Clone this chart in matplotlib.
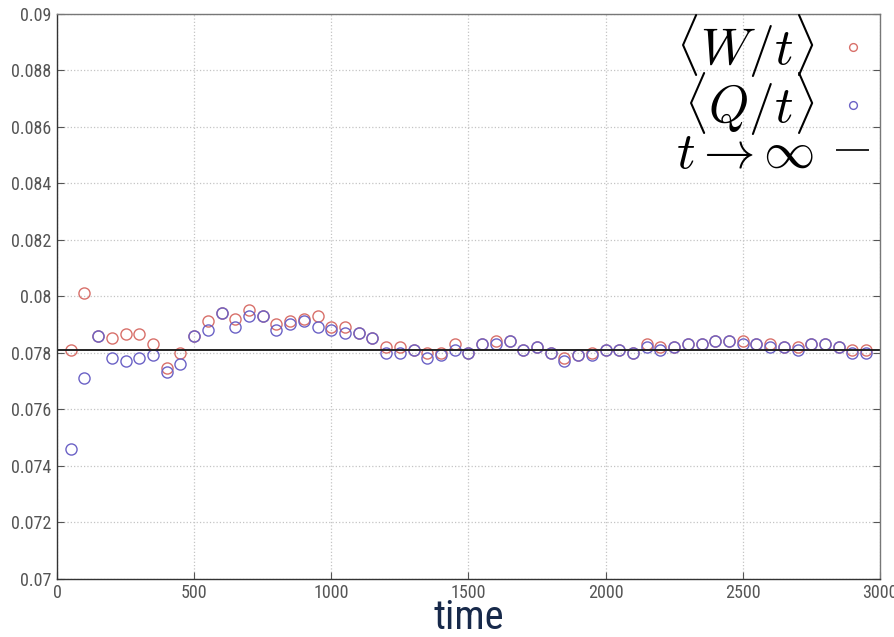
import numpy as np
import matplotlib
matplotlib.use('Agg')
import matplotlib.pyplot as plt
from matplotlib import font_manager

# pick a narrow sans if there is one
narrow = 'DejaVu Sans'
for name in ['Liberation Sans Narrow', 'Roboto Condensed', 'Open Sans Condensed']:
    try:
        font_manager.findfont(name, fallback_to_default=False)
        narrow = name
        break
    except Exception:
        pass

plt.rcParams['mathtext.fontset'] = 'cm'

time = np.arange(50, 3000, 50)

W_t = [0.0781, 0.0801, 0.0786, 0.0785, 0.07865, 0.07865, 0.0783, 0.07745, 0.0780, 0.0786,
       0.0791, 0.0794, 0.0792, 0.0795, 0.0793, 0.0790, 0.0791, 0.0792, 0.0793, 0.0789,
       0.0789, 0.0787, 0.0785, 0.0782, 0.0782, 0.0781, 0.0780, 0.0780, 0.0783, 0.0780,
       0.0783, 0.0784, 0.0784, 0.0781, 0.0782, 0.0780, 0.0778, 0.0779, 0.0780, 0.0781,
       0.0781, 0.0780, 0.0783, 0.0782, 0.0782, 0.0783, 0.0783, 0.0784, 0.0784, 0.0784,
       0.0783, 0.0783, 0.0782, 0.0782, 0.0783, 0.0783, 0.0782, 0.0781, 0.0781]

Q_t = [0.07458, 0.0771, 0.0786, 0.0778, 0.0777, 0.0778, 0.0779, 0.0773, 0.0776, 0.0786,
       0.0788, 0.0794, 0.0789, 0.0793, 0.0793, 0.0788, 0.0790, 0.0791, 0.0789, 0.0788,
       0.0787, 0.0787, 0.0785, 0.0780, 0.0780, 0.0781, 0.0778, 0.0779, 0.0781, 0.0780,
       0.0783, 0.0783, 0.0784, 0.0781, 0.0782, 0.0780, 0.0777, 0.0779, 0.0779, 0.0781,
       0.0781, 0.0780, 0.0782, 0.0781, 0.0782, 0.0783, 0.0783, 0.0784, 0.0784, 0.0783,
       0.0783, 0.0782, 0.0782, 0.0781, 0.0783, 0.0783, 0.0782, 0.0780, 0.0780]

limit = 0.0781

xticks = [0, 500, 1000, 1500, 2000, 2500, 3000]
yticks = [0.07, 0.072, 0.074, 0.076, 0.078, 0.08, 0.082, 0.084, 0.086, 0.088, 0.09]
ylabels = ['0.07', '0.072', '0.074', '0.076', '0.078', '0.08', '0.082', '0.084', '0.086', '0.088', '0.09']

red = '#d8706a'
blue = '#6b62c6'

fig = plt.figure(figsize=(8.95, 6.37), dpi=100)
ax = fig.add_axes([0.0637, 0.0918, 0.9193, 0.887])

ax.plot(time, W_t, 'o', mfc='none', mec=red, ms=8, mew=1.0, label=r'$\langle W/t\rangle$')
ax.plot(time, Q_t, 'o', mfc='none', mec=blue, ms=8, mew=1.0, label=r'$\langle Q/t\rangle$')
ax.axhline(limit, color='#222222', lw=1.4, label=r'$t\rightarrow\infty$')

ax.set_xlim(0, 3000)
ax.set_ylim(0.07, 0.09)
ax.set_xticks(xticks)
ax.set_yticks(yticks)
ax.set_yticklabels(ylabels)
ax.grid(True, linestyle=':', color='#c4c4c4', lw=0.9)
ax.tick_params(direction='in', length=5, top=False, right=True, colors='#555555',
               labelsize=13, labelcolor='#555555', pad=4)
for lab in ax.get_xticklabels() + ax.get_yticklabels():
    lab.set_family(narrow)
for s in ax.spines.values():
    s.set_color('#777777')
    s.set_linewidth(1.0)
ax.spines['left'].set_color('#333333')
ax.spines['bottom'].set_color('#333333')

ax.set_xlabel('time', family=narrow, fontsize=29, color='#17294a', labelpad=-3)

leg = ax.legend(loc='upper right', bbox_to_anchor=(0.986, 1.001), frameon=False,
                markerfirst=False, fontsize=37, markerscale=0.7, handlelength=0.6,
                labelspacing=-0.18, borderaxespad=0.0, borderpad=0.0, handletextpad=0.45)
for t in leg.get_texts():
    t.set_ha('right')

fig.savefig('out.png', dpi=100)
